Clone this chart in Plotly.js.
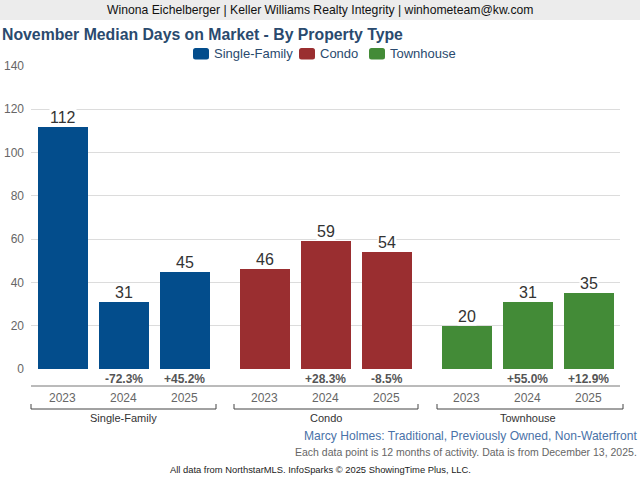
<!DOCTYPE html>
<html><head><meta charset="utf-8">
<script src="https://cdn.plot.ly/plotly-3.0.1.min.js"></script>
<style>html,body{margin:0;padding:0;background:#fff}#c{width:640px;height:480px}</style>
</head><body><div id="c"></div>
<script>
const years = ["2023","2024","2025"];
const groups = ["Single-Family","Condo","Townhouse"];
const singleFamily = [112, 31, 45];
const condo = [46, 59, 54];
const townhouse = [20, 31, 35];
const changeLabels = [["", "-72.3%", "+45.2%"], ["", "+28.3%", "-8.5%"], ["", "+55.0%", "+12.9%"]];
const colors = ["#034d8c", "#9a2e30", "#438b37"];
const series = [singleFamily, condo, townhouse];

const GROUP_STEP = 3.311;
const L = 31, T = 66, PW = 589, PH = 303;
const px = v => (v - L) / PW;           // pixel x -> paper
const py = v => (T + PH - v) / PH;       // pixel y -> paper

const traces = series.map((vals, g) => ({
  type: "bar",
  name: groups[g],
  x: years.map((_, i) => g * GROUP_STEP + i),
  y: vals,
  width: 0.82,
  marker: {color: colors[g]},
  hoverinfo: "skip"
}));

const annotations = [];
const shapes = [];
series.forEach((vals, g) => {
  vals.forEach((v, i) => {
    const xv = g * GROUP_STEP + i;
    annotations.push({x: xv, y: v, xref: "x", yref: "y", yanchor: "bottom", showarrow: false,
      text: String(v), font: {size: 16, color: "#333"}, bgcolor: "#fff", borderpad: 0});
    if (changeLabels[g][i]) annotations.push({x: xv, y: py(379), xref: "x", yref: "paper", yanchor: "middle",
      showarrow: false, text: "<b>" + changeLabels[g][i] + "</b>", font: {size: 12, color: "#555"}});
    annotations.push({x: xv, y: py(398), xref: "x", yref: "paper", yanchor: "middle",
      showarrow: false, text: years[i], font: {size: 12, color: "#666"}});
  });
  annotations.push({x: g * GROUP_STEP + 1, y: py(418), xref: "x", yref: "paper", yanchor: "middle",
    showarrow: false, text: groups[g], font: {size: 11, color: "#333"}});
});

// custom legend
const legendX = [193, 299, 369];
groups.forEach((name, g) => {
  const x0 = legendX[g], x1 = x0 + 16, y0 = 48, y1 = 59.5, r = 2.5;
  shapes.push({type: "path", xref: "paper", yref: "paper", fillcolor: colors[g], line: {width: 0},
    path: `M ${px(x0 + r)} ${py(y0)} L ${px(x1 - r)} ${py(y0)} Q ${px(x1)} ${py(y0)} ${px(x1)} ${py(y0 + r)} ` +
          `L ${px(x1)} ${py(y1 - r)} Q ${px(x1)} ${py(y1)} ${px(x1 - r)} ${py(y1)} L ${px(x0 + r)} ${py(y1)} ` +
          `Q ${px(x0)} ${py(y1)} ${px(x0)} ${py(y1 - r)} L ${px(x0)} ${py(y0 + r)} Q ${px(x0)} ${py(y0)} ${px(x0 + r)} ${py(y0)} Z`});
  annotations.push({x: px(x1 + 3.5), y: py(54), xref: "paper", yref: "paper", xanchor: "left", yanchor: "middle",
    showarrow: false, text: name, font: {size: 13, color: "#2a4a6e"}, borderpad: 0});
});

const brackets = [[31, 216], [234, 418], [437, 623]];
brackets.forEach(([a, b]) => {
  shapes.push({type: "path", xref: "paper", yref: "paper",
    path: `M ${px(a)} ${py(404)} L ${px(a)} ${py(409)} L ${px(b)} ${py(409)} L ${px(b)} ${py(404)}`,
    line: {color: "#444", width: 1}});
});
// axis line under change labels
shapes.push({type: "line", xref: "paper", yref: "paper", x0: 0, x1: px(620), y0: py(386), y1: py(386),
  line: {color: "#777", width: 1}});
// header band
shapes.push({type: "rect", xref: "paper", yref: "paper", x0: px(0), x1: px(640), y0: py(0), y1: py(20),
  fillcolor: "#ececec", line: {width: 0}, layer: "below"});

annotations.push({x: px(320), y: py(10), xref: "paper", yref: "paper", xanchor: "center", yanchor: "middle",
  showarrow: false, text: "Winona Eichelberger | Keller Williams Realty Integrity | winhometeam@kw.com",
  font: {size: 12.2, color: "#111"}});
annotations.push({x: px(639), y: py(436), xref: "paper", yref: "paper", xanchor: "right", yanchor: "middle",
  showarrow: false, text: "Marcy Holmes: Traditional, Previously Owned, Non-Waterfront",
  font: {size: 12.1, color: "#4a72a8"}, borderpad: 0});
annotations.push({x: px(638), y: py(452), xref: "paper", yref: "paper", xanchor: "right", yanchor: "middle",
  showarrow: false, text: "Each data point is 12 months of activity. Data is from December 13, 2025.",
  font: {size: 10.5, color: "#666"}, borderpad: 0});
annotations.push({x: px(320), y: py(469), xref: "paper", yref: "paper", xanchor: "center", yanchor: "middle",
  showarrow: false, text: "All data from NorthstarMLS. InfoSparks © 2025 ShowingTime Plus, LLC.",
  font: {size: 9.4, color: "#222"}});

const layout = {
  width: 640, height: 480,
  margin: {l: L, r: 640 - L - PW, t: T, b: 480 - T - PH, pad: 0},
  paper_bgcolor: "#fff", plot_bgcolor: "#fff",
  font: {family: "Liberation Sans, Arial, sans-serif"},
  title: {text: "<b>November Median Days on Market - By Property Type</b>", xref: "container", x: 2/640,
    xanchor: "left", y: 1 - 34/480, yanchor: "middle", font: {size: 15.8, color: "#2a4a6e"}},
  showlegend: false,
  bargap: 0,
  xaxis: {range: [-0.52, 9.13], showticklabels: false, showgrid: false, zeroline: false, ticks: "", fixedrange: true},
  yaxis: {range: [0, 140], dtick: 20, showgrid: true, gridcolor: "#dcdcdc", gridwidth: 1, zeroline: false,
    tickfont: {size: 12, color: "#666"}, ticks: "", ticklabelstandoff: 6, fixedrange: true},
  annotations, shapes
};
Plotly.newPlot("c", traces, layout, {displayModeBar: false, staticPlot: true});
</script></body></html>
